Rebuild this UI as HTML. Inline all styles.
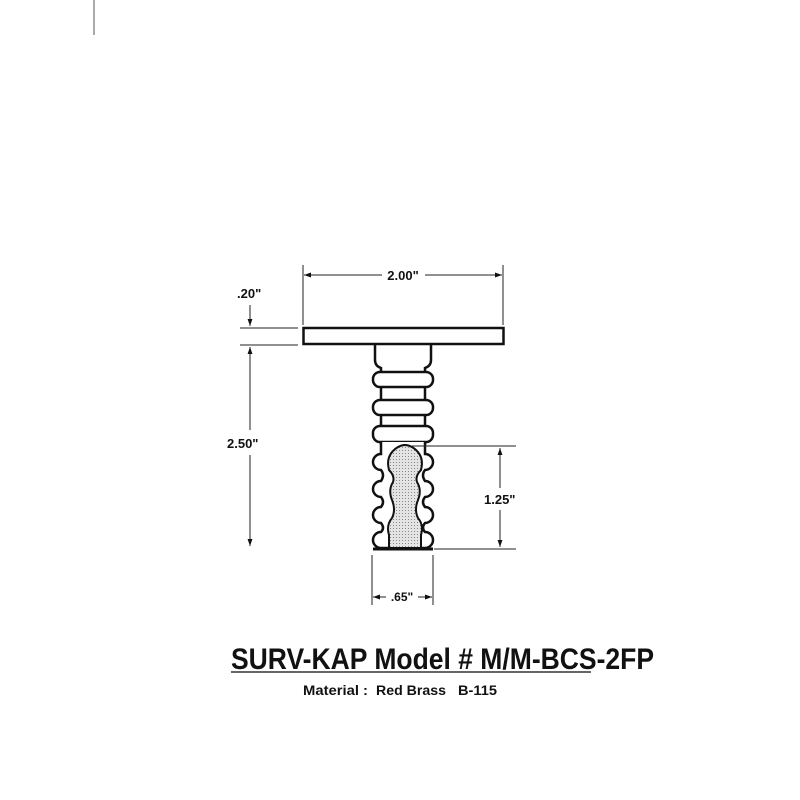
<!DOCTYPE html>
<html><head><meta charset="utf-8"><style>
html,body{margin:0;padding:0;background:#fff;}
svg{display:block;}
text{font-family:"Liberation Sans",sans-serif;font-weight:bold;fill:#111;}
</style></head><body>
<svg width="800" height="800" viewBox="0 0 800 800" xmlns="http://www.w3.org/2000/svg">
<defs>
<marker id="ah" viewBox="0 0 10 10" refX="10" refY="5" markerWidth="7" markerHeight="7" orient="auto-start-reverse">
<path d="M0,1.5 L10,5 L0,8.5 Z" fill="#111"/>
</marker>
<pattern id="dots" width="3" height="3" patternUnits="userSpaceOnUse">
<rect width="3" height="3" fill="#e4e4e4"/><rect width="1" height="1" fill="#888"/>
</pattern>
</defs>
<line x1="94" y1="0" x2="94" y2="35" stroke="#555" stroke-width="1"/>

<line x1="303" y1="265" x2="303" y2="325" stroke="#222" stroke-width="1"/>
<line x1="503" y1="265" x2="503" y2="325" stroke="#222" stroke-width="1"/>
<line x1="304" y1="275" x2="382" y2="275" stroke="#222" stroke-width="1" marker-start="url(#ah)"/>
<line x1="425" y1="275" x2="502" y2="275" stroke="#222" stroke-width="1" marker-end="url(#ah)"/>
<text x="403" y="280" font-size="13" text-anchor="middle">2.00"</text>

<text x="237" y="298" font-size="13">.20"</text>
<line x1="250" y1="305" x2="250" y2="326" stroke="#222" stroke-width="1" marker-end="url(#ah)"/>
<line x1="240" y1="328" x2="298" y2="328" stroke="#222" stroke-width="1"/>
<line x1="240" y1="345" x2="298" y2="345" stroke="#222" stroke-width="1"/>

<line x1="250" y1="347" x2="250" y2="430" stroke="#222" stroke-width="1" marker-start="url(#ah)"/>
<line x1="250" y1="455" x2="250" y2="546" stroke="#222" stroke-width="1" marker-end="url(#ah)"/>
<text x="227" y="448" font-size="13">2.50"</text>

<rect x="303.5" y="328" width="200" height="16" fill="#fff" stroke="#111" stroke-width="2.5"/>

<g fill="#fff" stroke="#111" stroke-width="2.5">
<path d="M375,345 L375,360 Q375,366 381,368 L381,445 M431,345 L431,360 Q431,366 425,368 L425,445"/>
<rect x="373" y="372" width="60" height="15" rx="7"/>
<rect x="373" y="400" width="60" height="15" rx="7"/>
<rect x="373" y="426" width="60" height="16" rx="7"/>
<path d="M381,442 L381,454 A7.5,7.5 0 0 0 381,470 Q385,475 381,481 A7.5,7.5 0 0 0 381,497 Q385,502 381,507 A7.5,7.5 0 0 0 381,523 Q385,528 381,532 A8,8 0 0 0 381,548 L425,548 A8,8 0 0 0 425,532 Q421,528 425,523 A7.5,7.5 0 0 0 425,507 Q421,502 425,497 A7.5,7.5 0 0 0 425,481 Q421,475 425,470 A7.5,7.5 0 0 0 425,454 L425,442"/>
</g>
<line x1="373" y1="549" x2="433" y2="549" stroke="#111" stroke-width="3"/>
<path d="M389,548 L389,535 Q386,525 392,518 Q396,510 392,500 Q388,490 393,482 Q395,476 389,470 Q385,455 398,447 Q405,443 412,447 Q425,455 421,470 Q415,476 417,482 Q422,490 418,500 Q414,510 418,518 Q424,525 421,535 L421,548 Z" fill="url(#dots)" stroke="#111" stroke-width="2"/>

<line x1="412" y1="446" x2="516" y2="446" stroke="#222" stroke-width="1"/>
<line x1="434" y1="549" x2="516" y2="549" stroke="#222" stroke-width="1"/>
<line x1="500" y1="448" x2="500" y2="488" stroke="#222" stroke-width="1" marker-start="url(#ah)"/>
<line x1="500" y1="510" x2="500" y2="547" stroke="#222" stroke-width="1" marker-end="url(#ah)"/>
<text x="484" y="504" font-size="13">1.25"</text>

<line x1="372" y1="555" x2="372" y2="605" stroke="#222" stroke-width="1"/>
<line x1="433" y1="555" x2="433" y2="605" stroke="#222" stroke-width="1"/>
<line x1="373" y1="597" x2="386" y2="597" stroke="#222" stroke-width="1" marker-start="url(#ah)"/>
<line x1="418" y1="597" x2="432" y2="597" stroke="#222" stroke-width="1" marker-end="url(#ah)"/>
<text x="402" y="601" font-size="12" text-anchor="middle">.65"</text>

<text x="231" y="669" font-size="30" textLength="423" lengthAdjust="spacingAndGlyphs">SURV-KAP Model # M/M-BCS-2FP</text>
<line x1="231" y1="672" x2="591" y2="672" stroke="#333" stroke-width="1.5"/>
<text x="303" y="695" font-size="13.5" textLength="65" lengthAdjust="spacingAndGlyphs">Material :</text>
<text x="376" y="695" font-size="13.5" textLength="70" lengthAdjust="spacingAndGlyphs">Red Brass</text>
<text x="458" y="695" font-size="13.5" textLength="39" lengthAdjust="spacingAndGlyphs">B-115</text>
</svg>
</body></html>
